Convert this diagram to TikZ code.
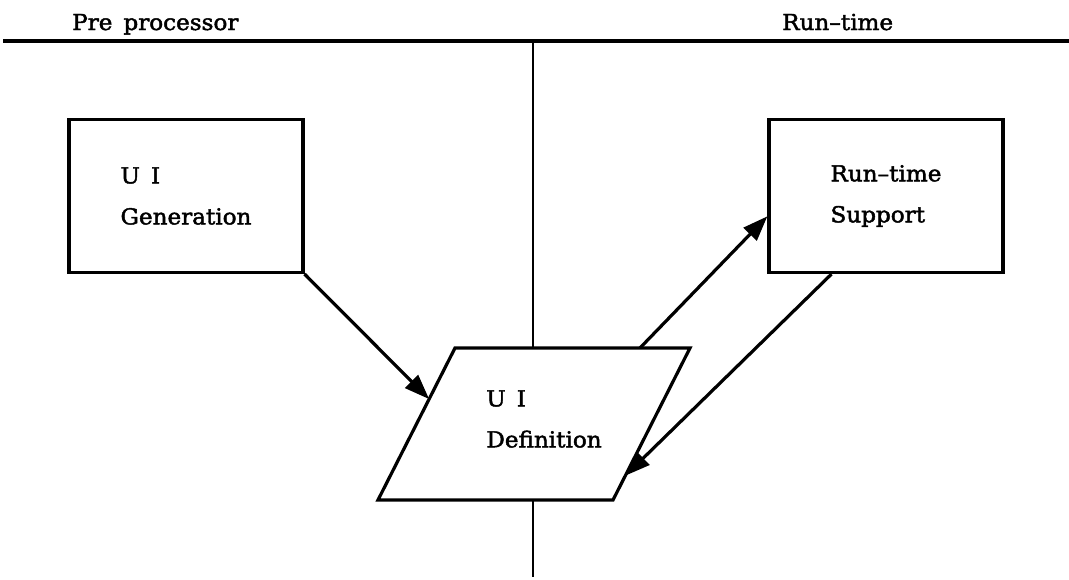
\documentclass[tikz,border=0pt]{standalone}
\usepackage{fontspec}
\usetikzlibrary{arrows.meta,calc}
\newfontfamily\figfont[FakeStretch=1.05,FakeBold=2,WordSpace=1.5]{DejaVu Serif}

\begin{document}
\begin{tikzpicture}[x=1pt,y=1pt,
  every node/.style={font=\figfont\fontsize{22}{41}\selectfont},
  heading/.style={anchor=base west,inner sep=0pt},
  rule/.style={line width=3.2pt},
  divider/.style={line width=2.6pt},
  procbox/.style={draw,line width=3.2pt,fill=white,rectangle,
    minimum width=234pt,minimum height=153pt,align=left,inner sep=0pt},
  outline/.style={draw,line width=3.2pt,fill=white,line join=miter},
  caption/.style={align=left,inner sep=0pt},
  flow/.style={line width=3.2pt,-{Triangle[length=25pt,width=18pt]}}]
\useasboundingbox (0,0) rectangle (1069,-579);

% column headings and dividing rules
\node[heading] (pre) at (72,-30) {Pre processor};
\node[heading] (run) at (782,-30) {Run–time};
\draw[rule] (3,-41) -- (1069,-41);
\draw[divider] (533,-41) -- (533,-577);

% processes
\node[procbox] (gen) at (186,-196) {U I\\Generation};
\node[procbox] (rts) at (886,-196) {Run–time\\Support};

% the shared definition: a slanted data box
\coordinate (dbl) at (378,-500);
\coordinate (dbr) at (613,-500);
\coordinate (dtr) at (690,-348);
\coordinate (dtl) at (455,-348);
\draw[outline] (dbl) -- (dbr) -- (dtr) -- (dtl) -- cycle;
\node[caption] (def) at (544,-419) {U I\\Definition};

% data flow
\draw[flow] (gen.south east) -- ($(dbl)!0.664!(dtl)$);
\draw[flow] ($(dtl)!0.787!(dtr)$) -- ($(rts.south west)!0.37!(rts.north west)$);
\draw[flow] ($(rts.south west)!0.27!(rts.south east)$) -- ($(dbr)!0.16!(dtr)$);
\end{tikzpicture}
\end{document}
